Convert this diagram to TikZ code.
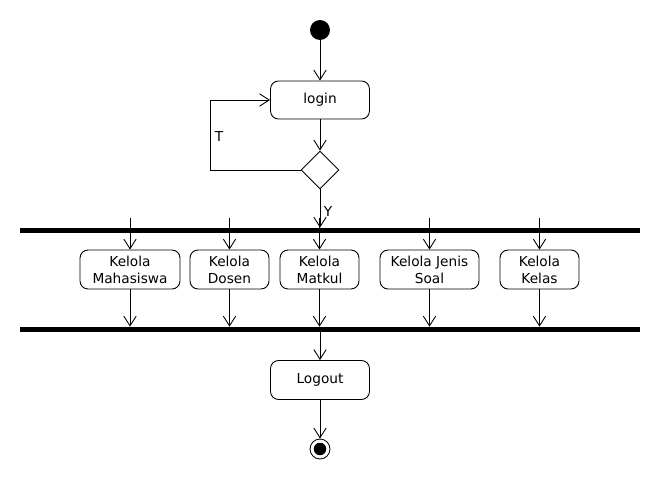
\documentclass[tikz,border=0pt]{standalone}
\usepackage{fontspec}
\setmainfont{DejaVu Sans}
\usepackage{tikz}
\usetikzlibrary{arrows.meta,positioning,shapes.geometric,calc}

\begin{document}
\begin{tikzpicture}[
    x=0.02cm, y=-0.02cm,
    font=\fontsize{7.8}{9.6}\selectfont,
    act/.style={rectangle, draw, rounded corners=0.16cm, minimum width=1.58cm, minimum height=0.78cm, inner sep=1pt, align=center, line width=0.5pt},
    bar/.style={rectangle, fill=black, minimum width=12.4cm, minimum height=0.1cm, inner sep=0pt},
    arr/.style={-{Straight Barb[length=5.5pt, width=7pt]}, line width=0.5pt},
    lbl/.style={inner sep=0pt}
]
    \useasboundingbox (0,0) rectangle (660,480);

    % Start / login
    \node[circle, fill=black, minimum size=0.4cm, inner sep=0pt] (start) at (320,30) {};
    \node[act, minimum width=1.98cm, minimum height=0.76cm] (login) at (320,100) {login};
    \node[diamond, draw, line width=0.5pt, minimum width=0.76cm, minimum height=0.76cm, inner sep=0pt] (dec) at (320,170) {};

    % Fork bars
    \node[bar] (fork) at (330,230.5) {};
    \node[bar] (join) at (330,329.5) {};

    % Activities
    \node[act, minimum width=2cm] (mhs) at (130,269.5) {Kelola\\Mahasiswa};
    \node[act] (dosen) at (229.5,269.5) {Kelola\\Dosen};
    \node[act] (matkul) at (319.5,269.5) {Kelola\\Matkul};
    \node[act, minimum width=1.98cm] (soal) at (429.5,269.5) {Kelola Jenis\\Soal};
    \node[act] (kelas) at (539.5,269.5) {Kelola\\Kelas};
    \node[act, minimum width=1.98cm] (logout) at (320,380) {Logout};

    % End
    \node[circle, draw, line width=0.5pt, minimum size=0.4cm, inner sep=0pt] (end) at (320,449) {};
    \node[circle, fill=black, minimum size=0.25cm, inner sep=0pt] (endin) at (end) {};

    % Arrows
    \draw[arr] (start) -- (login);
    \draw[arr] (login) -- (dec);
    \draw[arr] (dec.west) -- ++(-90,0) |- (login.west);
    \draw[arr] (dec) -- (dec |- fork.north);
    \foreach \n in {mhs,dosen,matkul,soal,kelas} {
        \coordinate (top-\n) at ($(\n.north)+(0,-32)$);
        \draw[arr] (top-\n) -- (\n);
        \draw[arr] (\n) -- (\n |- join.north);
    }
    \draw[arr] (join.south -| logout) -- (logout);
    \draw[arr] (logout) -- (end);

    % Labels
    \node[lbl] (t) at (219,137) {T};
    \node[lbl] (y) at (328,212) {Y};
\end{tikzpicture}
\end{document}
